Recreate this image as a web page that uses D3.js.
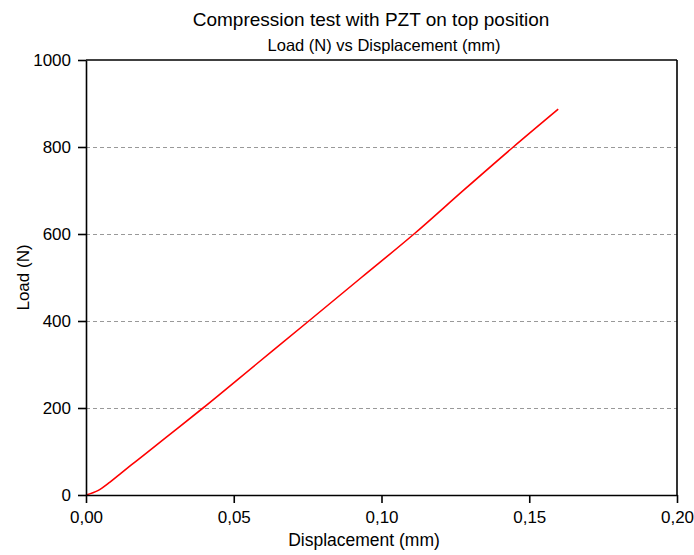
<!DOCTYPE html>
<html>
<head>
<meta charset="utf-8">
<script src="https://cdn.jsdelivr.net/npm/d3@7"></script>
<style>
  body { margin: 0; background: #fff; }
  svg text { font-family: "Liberation Sans", Arial, sans-serif; fill: #000; }
</style>
</head>
<body>
<div id="chart"></div>
<script>
// values
var displacement = [0, 0.004, 0.008, 0.012, 0.017, 0.027, 0.0396, 0.0575, 0.0754, 0.0932, 0.1110, 0.1280, 0.1446, 0.1598];
var load = [0, 10, 29, 51, 78, 132, 200, 300, 400, 500, 600, 702, 800, 887];
var xTicks = [0, 0.05, 0.10, 0.15, 0.20];
var yTicks = [0, 200, 400, 600, 800, 1000];
var gridValues = [200, 400, 600, 800];

var svgWidth = 694;
var svgHeight = 555;

var margin = {
  top: 60,
  right: 17,
  bottom: 60,
  left: 86
};

var width = svgWidth - margin.left - margin.right;
var height = svgHeight - margin.top - margin.bottom;

var svg = d3.select("#chart")
  .append("svg")
  .attr("width", svgWidth)
  .attr("height", svgHeight);

var chartGroup = svg.append("g")
  .attr("transform", `translate(${margin.left}, ${margin.top})`);

var xScale = d3.scaleLinear().domain([0, 0.2]).range([0, width]);
var yScale = d3.scaleLinear().domain([0, 1000]).range([height, 0]);

// dashed grid
chartGroup.selectAll(".grid")
  .data(gridValues)
  .enter()
  .append("line")
  .attr("x1", 0)
  .attr("x2", width)
  .attr("y1", d => yScale(d) + 0.5)
  .attr("y2", d => yScale(d) + 0.5)
  .attr("stroke", "#999")
  .attr("stroke-width", 1)
  .attr("stroke-dasharray", "4,3");

// curve
var lineData = displacement.map((d, i) => ({ x: d, y: load[i] }));
chartGroup.append("path")
  .datum(lineData)
  .attr("fill", "none")
  .attr("stroke", "#ff0000")
  .attr("stroke-width", 1.6)
  .attr("d", d3.line().x(d => xScale(d.x)).y(d => yScale(d.y)).curve(d3.curveMonotoneX));

// frame top and right
chartGroup.append("line")
  .attr("x1", 0).attr("x2", width).attr("y1", 0).attr("y2", 0)
  .attr("stroke", "#000").attr("stroke-width", 1.6);
chartGroup.append("line")
  .attr("x1", width).attr("x2", width).attr("y1", 0).attr("y2", height)
  .attr("stroke", "#000").attr("stroke-width", 1.6);

var bottomAxis = d3.axisBottom(xScale)
  .tickValues(xTicks)
  .tickSizeInner(8)
  .tickSizeOuter(0)
  .tickPadding(8)
  .tickFormat(d => d3.format(".2f")(d).replace(".", ","));

var leftAxis = d3.axisLeft(yScale)
  .tickValues(yTicks)
  .tickSizeInner(8)
  .tickSizeOuter(0)
  .tickPadding(7)
  .tickFormat(d3.format("d"));

var xAxis = chartGroup.append("g")
  .attr("transform", `translate(0, ${height})`)
  .call(bottomAxis);

var yAxis = chartGroup.append("g")
  .call(leftAxis);

[xAxis, yAxis].forEach(function(ax) {
  ax.select(".domain").attr("stroke", "#000").attr("stroke-width", 1.6);
  ax.selectAll(".tick line").attr("stroke", "#000").attr("stroke-width", 1.6);
  ax.selectAll(".tick text").attr("font-size", 17).attr("fill", "#000");
});

// titles
svg.append("text")
  .attr("x", 371)
  .attr("y", 26)
  .attr("text-anchor", "middle")
  .attr("font-size", 19)
  .text("Compression test with PZT on top position");

svg.append("text")
  .attr("x", 384)
  .attr("y", 51)
  .attr("text-anchor", "middle")
  .attr("font-size", 16.5)
  .text("Load (N) vs Displacement (mm)");

svg.append("text")
  .attr("x", 364)
  .attr("y", 546)
  .attr("text-anchor", "middle")
  .attr("font-size", 17.5)
  .text("Displacement (mm)");

svg.append("text")
  .attr("transform", `translate(29, ${margin.top + height / 2}) rotate(-90)`)
  .attr("text-anchor", "middle")
  .attr("font-size", 17)
  .text("Load (N)");
</script>
</body>
</html>
